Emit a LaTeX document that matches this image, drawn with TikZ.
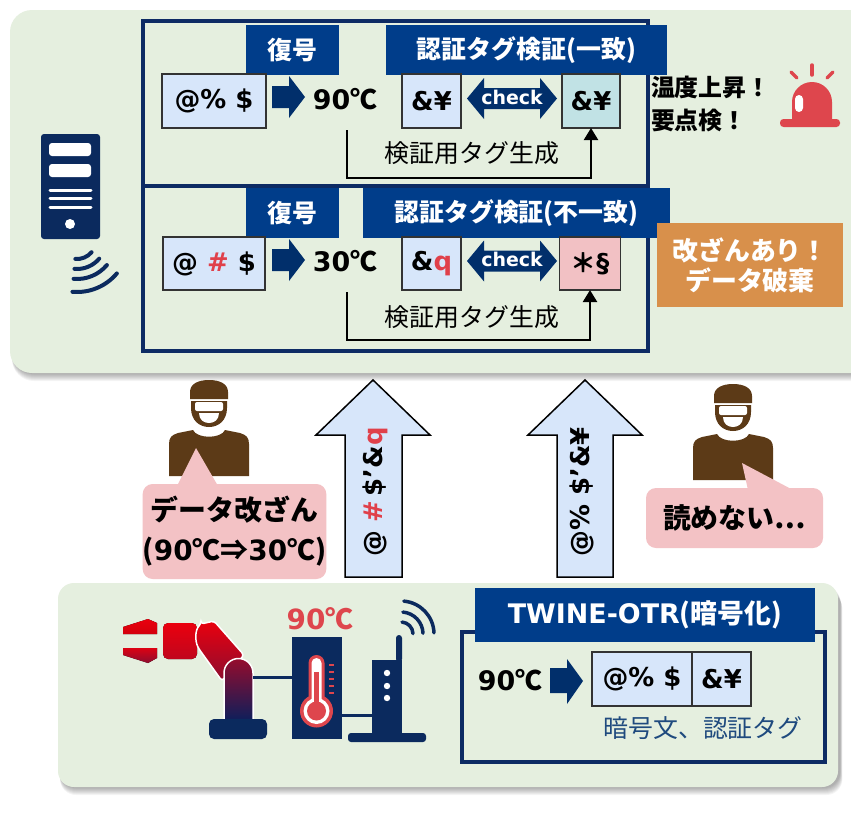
\documentclass[tikz,border=0pt]{standalone}
\usepackage{fontspec}
\setmainfont{Noto Sans CJK JP}
\newfontfamily\lat{DejaVu Sans}
\usetikzlibrary{arrows.meta}

\definecolor{panelgreen}{HTML}{E5EFDF}
\definecolor{frameblue}{HTML}{0D2B64}
\definecolor{bannerblue}{HTML}{003D8A}
\definecolor{arrownavy}{HTML}{012F6B}
\definecolor{boxblue}{HTML}{D7E6FA}
\definecolor{boxteal}{HTML}{C1E2E5}
\definecolor{boxpink}{HTML}{F2C1C4}
\definecolor{bubblepink}{HTML}{F3C2C5}
\definecolor{alertred}{HTML}{DE464D}
\definecolor{textred}{HTML}{E0404A}
\definecolor{orangebox}{HTML}{D8904B}
\definecolor{hackerbrown}{HTML}{5C3A17}
\definecolor{iconnavy}{HTML}{0B2A5E}
\definecolor{captionblue}{HTML}{1F4A7E}
\definecolor{boxline}{HTML}{333333}
\definecolor{armred}{HTML}{EA000E}
\definecolor{armdark}{HTML}{8C0D30}
\definecolor{armnavy}{HTML}{0A1F5C}

\begin{document}
\begin{tikzpicture}[x=1bp,y=-1bp,
  every node/.style={inner sep=0pt, outer sep=0pt},
  frame/.style={draw=frameblue, line width=3.5bp},
  banner/.style={fill=bannerblue, text=white, font=\bfseries\fontsize{25}{30}\selectfont},
  cbox/.style={draw=boxline, line width=1.2bp, fill=boxblue, minimum height=54bp,
    font=\lat\bfseries\fontsize{26}{30}\selectfont},
  temp/.style={font=\bfseries\fontsize{27}{32}\selectfont},
  gentxt/.style={font=\fontsize{25}{30}\selectfont},
  checktxt/.style={text=white, font=\lat\bfseries\fontsize{19}{22}\selectfont},
  conn/.style={draw=black, line width=2.2bp, -{Triangle[width=14bp,length=12bp]}},
  blockarrow/.style={fill=arrownavy},
  uparrow/.style={fill=boxblue, draw=black, line width=1.5bp, line join=miter},
  rot/.style={rotate=90, font=\lat\bfseries\fontsize{26}{30}\selectfont},
  bubble/.style={fill=bubblepink, rounded corners=10bp, align=center,
    font=\bfseries\fontsize{28}{40}\selectfont},
  wire/.style={draw=iconnavy, line width=3bp},
  wave/.style={draw=iconnavy, line width=4bp, line cap=round},
  hacker/.pic={
    % cap
    \fill[hackerbrown] (-19,19) -- (-19,12) .. controls (-19,4) and (-11,0) .. (0,0)
      .. controls (11,0) and (19,4) .. (19,12) -- (19,19) -- cycle;
    % face
    \fill[hackerbrown] (-18,21) -- (18,21) -- (18,28) .. controls (18,40) and (10,47) .. (0,47)
      .. controls (-10,47) and (-18,40) .. (-18,28) -- cycle;
    % sunglasses
    \fill[white, rounded corners=2bp] (-14,22) rectangle (14,31);
    % mouth
    \fill[white] (-10,33) .. controls (-10,40) and (-5,43) .. (0,43)
      .. controls (5,43) and (10,40) .. (10,33) -- cycle;
    % shoulders
    \fill[hackerbrown] (-40,96) -- (-40,64) .. controls (-40,57) and (-37,55) .. (-31,53)
      -- (-16,50) .. controls (-12,59) and (12,59) .. (16,50) -- (31,53)
      .. controls (37,55) and (40,57) .. (40,64) -- (40,96) -- cycle;
  }
]
\path[use as bounding box] (0,0) rectangle (851,829);
\clip (0,0) rectangle (851,829);
\fill[white] (0,0) rectangle (851,829);

% soft shadows under both panels
\foreach \i in {1,...,8}{
  \fill[black, opacity=0.045, rounded corners=22bp] (12,12+\i) rectangle (882,373+\i);
  \fill[black, opacity=0.045, rounded corners=16bp] (60,585+\i) rectangle (840+0.3*\i,787+\i);
}
\fill[panelgreen, rounded corners=22bp] (10,10) rectangle (880,373);
\fill[panelgreen, rounded corners=16bp] (58,583) rectangle (838,787);

% ---------- receiving server ----------
\fill[iconnavy, rounded corners=3bp] (41,134) rectangle (100,239);
\fill[white, rounded corners=3bp] (49,143) rectangle (91,156);
\fill[white, rounded corners=3bp] (49,164) rectangle (91,177);
\foreach \yy in {190,198,207}
  \draw[white, line width=3bp, line cap=round] (50,\yy) -- (91,\yy);
\fill[white] (70,224) circle[radius=5];
\foreach \r in {19,29,39,52}
  \draw[wave] (77,240) ++(95:\r) arc[start angle=95, end angle=40, radius=\r];

% ---------- decryption frames ----------
\draw[frame] (143,21) rectangle (648,186);
\draw[frame] (143,186) rectangle (648,351);

% first row: tag matches
\node[banner, minimum width=93bp, minimum height=50bp] (dec1) at (292.5,50) {復号};
\node[banner, minimum width=281bp, minimum height=50bp] (ver1) at (526.5,50) {認証タグ検証(一致)};
\node[cbox, minimum width=104bp] (ct1) at (214,101) {@\% \$};
\fill[blockarrow] (272,86) -- (289,86) -- (289,76) -- (305,97) -- (289,118) -- (289,108) -- (272,108) -- cycle;
\node[temp] (pt1) at (345,99) {{\lat 90}℃};
\node[cbox, minimum width=59bp] (tg1) at (431.5,101) {\&¥};
\fill[blockarrow] (467,98.5) -- (484,78) -- (484,88) -- (540,88) -- (540,78) -- (557,98.5)
  -- (540,119) -- (540,109) -- (484,109) -- (484,119) -- cycle;
\node[checktxt] (chk1) at (512,97) {check};
\node[cbox, minimum width=58bp, fill=boxteal] (tc1) at (591,101) {\&¥};
\coordinate (g1) at (347,130);
\draw[conn] (g1) -- ++(0,48) -| (tc1.south);
\node[gentxt] (gen1) at (472,153) {検証用タグ生成};

% second row: tag mismatch
\node[banner, minimum width=93bp, minimum height=50bp] (dec2) at (292.5,213) {復号};
\node[banner, minimum width=307bp, minimum height=50bp] (ver2) at (516.5,213) {認証タグ検証(不一致)};
\node[cbox, minimum width=102bp, minimum height=53bp] (ct2) at (214,263.5) {@ {\color{textred}\#} \$};
\fill[blockarrow] (272,249) -- (289,249) -- (289,239) -- (305,260) -- (289,281) -- (289,271) -- (272,271) -- cycle;
\node[temp] (pt2) at (345,261) {{\lat 30}℃};
\node[cbox, minimum width=59bp, minimum height=53bp] (tg2) at (431.5,263.5) {\&{\color{textred}q}};
\fill[blockarrow] (467,261) -- (484,240.5) -- (484,250.5) -- (540,250.5) -- (540,240.5) -- (557,261)
  -- (540,281.5) -- (540,271.5) -- (484,271.5) -- (484,281.5) -- cycle;
\node[checktxt] (chk2) at (512,259.5) {check};
\node[cbox, minimum width=61bp, minimum height=53bp, fill=boxpink] (tc2) at (590,263.5) {{\rmfamily ＊}§};
\coordinate (g2) at (347,292);
\draw[conn] (g2) -- ++(0,48) -| (tc2.south);
\node[gentxt] (gen2) at (472,317) {検証用タグ生成};

% ---------- verdicts ----------
\node[anchor=west, align=left, font=\bfseries\fontsize{24}{33}\selectfont] (warn) at (651,104)
  {温度上昇！\\要点検！};
\fill[alertred] (792,122) -- (792,102) arc[start angle=180, end angle=360, radius=20] -- (832,122) -- cycle;
\fill[alertred, rounded corners=3.5bp] (780,119) rectangle (840,127);
\fill[white, rounded corners=4bp] (795,95) rectangle (803,112);
\draw[alertred, line width=3.5bp, line cap=round] (812,65) -- (812,75);
\draw[alertred, line width=3.5bp, line cap=round] (791,72) -- (797,78);
\draw[alertred, line width=3.5bp, line cap=round] (833,72) -- (827,78);
\node[fill=orangebox, text=white, minimum width=186bp, minimum height=84bp, align=center,
  font=\bfseries\fontsize{26}{30}\selectfont] (discard) at (750,265) {改ざんあり！\\データ破棄};

% ---------- transmission ----------
\filldraw[uparrow] (373,380) -- (430,435) -- (402,435) -- (402,577) -- (345,577) -- (345,435) -- (316,435) -- cycle;
\node[rot] (msg1) at (375,492) {@ {\color{textred}\#}\,\$’\&{\color{textred}q}};
\filldraw[uparrow] (585,380) -- (642,435) -- (613,435) -- (613,577) -- (557,577) -- (557,435) -- (528,435) -- cycle;
\node[rot] (msg2) at (582,492) {@\% \$’\&¥};

% ---------- attackers ----------
\pic at (209,380) {hacker};
\pic at (733,384) {hacker};
\fill[bubblepink] (177,486) -- (196,448) -- (218,486) -- cycle;
\node[bubble, minimum width=177bp, minimum height=95bp] (say1) at (234.5,531.5)
  {データ改ざん\\({\lat 90}℃⇒{\lat 30}℃)};
\fill[bubblepink] (748,490) -- (742,463) -- (793,490) -- cycle;
\node[bubble, minimum width=177bp, minimum height=60bp] (say2) at (734.5,518) {読めない…};

% ---------- sensing device ----------
\fill[top color=armred, bottom color=armred!90!black] (123,627) -- (148,619) -- (157,623) -- (157,634) -- (123,634) -- cycle;
\fill[top color=armred!85!armdark, bottom color=armdark] (123,648) -- (157,648) -- (157,658) -- (148,663) -- (123,655) -- cycle;
\fill[top color=armred, bottom color=armred!55!armdark, rounded corners=5bp] (163,623) rectangle (197,659);
\fill[top color=armred, bottom color=armdark, draw=white, line width=1.5bp, rounded corners=3bp]
  (201,624) -- (214,621) -- (244,655) -- (222,681) -- (199,649)
  .. controls (195,641) and (195,630) .. (201,624) -- cycle;
\fill[top color=armdark!90!armred, bottom color=armnavy, draw=white, line width=1.5bp]
  (224,722) -- (224,673) arc[start angle=180, end angle=360, radius=14.5] -- (253,722) -- cycle;
\fill[iconnavy, rounded corners=5bp] (209,719) rectangle (267,739);
\coordinate (armjoint) at (253,677);

\node[fill=iconnavy, minimum width=50bp, minimum height=102bp] (sensor) at (317,688) {};
\draw[wire] (armjoint) -- (sensor.west |- armjoint);
\node[font=\bfseries\fontsize{28}{32}\selectfont, text=alertred] (tempval) at (320,619) {{\lat 90}℃};
% thermometer
\fill[alertred] (308.5,700) -- (308.5,663) arc[start angle=180, end angle=360, radius=8] -- (324.5,700) -- cycle;
\fill[alertred] (316.5,711) circle[radius=16.5];
\fill[white] (311.5,700) -- (311.5,663) arc[start angle=180, end angle=360, radius=5] -- (321.5,700) -- cycle;
\fill[white] (316.5,711) circle[radius=13];
\fill[alertred] (314,672) rectangle (319,705);
\fill[alertred] (316.5,711) circle[radius=9.5];
\foreach \t in {665,672,679,686,693}
  \draw[alertred, line width=2bp] (329,\t) -- (334,\t);

% router
\fill[iconnavy, rounded corners=3bp] (396,635) rectangle (402,662);
\node[fill=iconnavy, minimum width=30bp, minimum height=78bp] (router) at (387,699) {};
\fill[iconnavy, rounded corners=3bp] (348,733) rectangle (426,742);
\foreach \yy in {673,686,698}
  \fill[white] (387,\yy) circle[radius=3.2];
\coordinate (w2) at (342,715);
\draw[wire] (w2) -- (router.west |- w2);
\foreach \r in {12,22,33}
  \draw[wave, line width=3.5bp] (401,634) ++(275:\r) arc[start angle=275, end angle=358, radius=\r];

% ---------- encryption ----------
\draw[frame] (462,632) rectangle (825,762);
\node[banner, minimum width=340bp, minimum height=54bp, font=\bfseries\fontsize{27}{30}\selectfont] (otr) at (645,615)
  {{\lat TWINE-OTR}(暗号化)};
\node[temp] (pt3) at (510,680) {{\lat 90}℃};
\fill[blockarrow] (550,668) -- (567,668) -- (567,659) -- (583,681) -- (567,704) -- (567,693) -- (550,693) -- cycle;
\node[cbox, minimum width=100bp] (ct3) at (642,679) {@\% \$};
\node[cbox, minimum width=59bp] (tg3) at (721.5,679) {\&¥};
\node[font=\fontsize{25}{30}\selectfont, text=captionblue] (cap) at (703,728) {暗号文、認証タグ};
\end{tikzpicture}
\end{document}
